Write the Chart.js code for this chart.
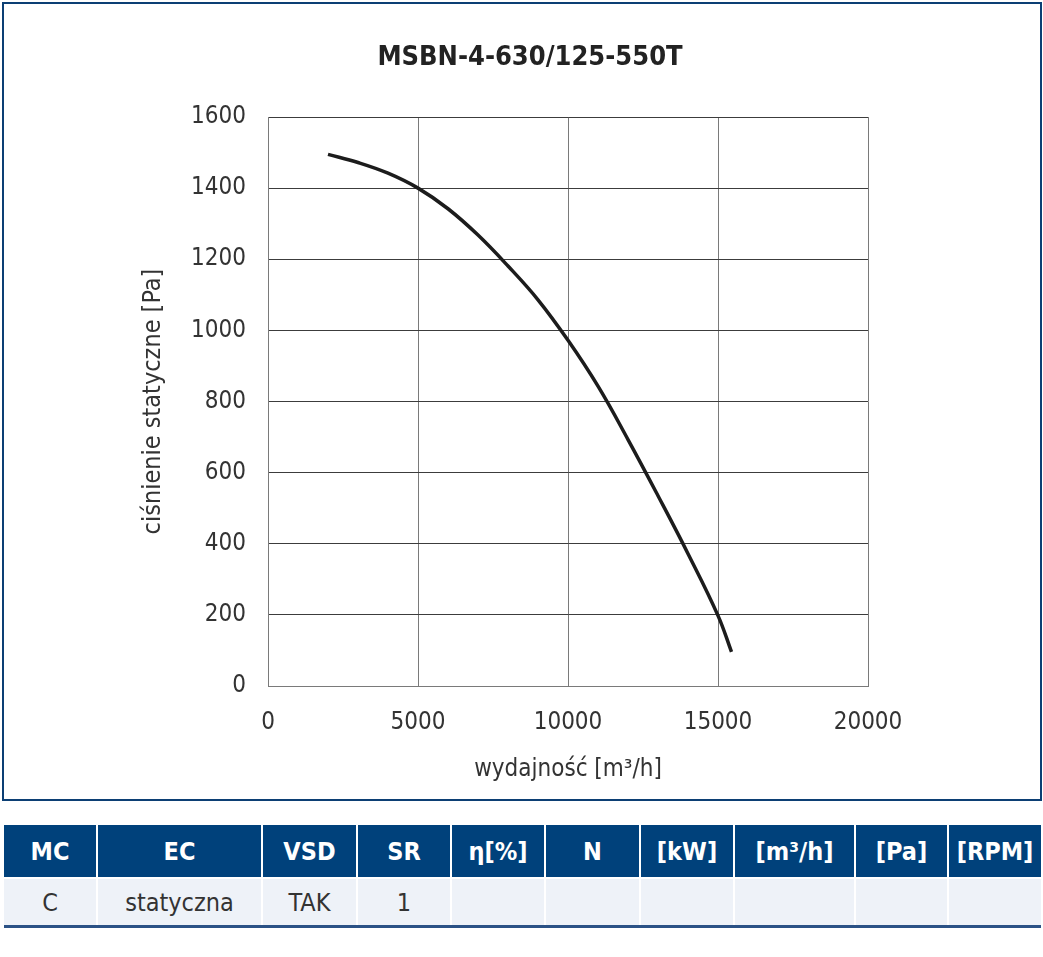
<!DOCTYPE html>
<html>
<head>
<meta charset="utf-8">
<script src="https://cdn.jsdelivr.net/npm/chart.js@4.4.1/dist/chart.umd.min.js"></script>
<style>
    body {
        margin: 0;
        background: #ffffff;
        font-family: "DejaVu Sans Condensed", "Liberation Sans Narrow", sans-serif;
    }

    #box {
        position: absolute;
        left: 2px;
        top: 2px;
        width: 1036px;
        height: 795px;
        border: 2px solid #0c3f74;
    }

    #box canvas {
        display: block;
    }

    #params {
        position: absolute;
        left: 4px;
        top: 825px;
        width: 1037px;
        border-collapse: collapse;
        table-layout: fixed;
        border-bottom: 3px solid #2b5286;
    }

    #params th {
        background: #00417b;
        color: #ffffff;
        font-size: 25px;
        font-weight: bold;
        height: 52px;
        padding: 0;
        border-left: 2px solid #ffffff;
    }

    #params td {
        background: #eef2f8;
        color: #333333;
        font-size: 25px;
        height: 46px;
        padding: 0;
        text-align: center;
        border-left: 2px solid #ffffff;
        border-top: 2px solid #ffffff;
    }

    #params th:first-child,
    #params td:first-child {
        border-left: none;
    }
</style>
</head>
<body>

<div id="box">
    <canvas id="fanChart" width="1036" height="795"></canvas>
</div>

<table id="params">
    <colgroup>
        <col style="width:93px">
        <col style="width:165px">
        <col style="width:95px">
        <col style="width:94px">
        <col style="width:94px">
        <col style="width:95px">
        <col style="width:94px">
        <col style="width:121px">
        <col style="width:93px">
        <col style="width:93px">
    </colgroup>
    <tr id="headRow"></tr>
    <tr id="valueRow"></tr>
</table>

<script>
// ================= DATA =================

const chartTitle = "MSBN-4-630/125-550T";

// air flow [m3/h]
const airFlow = [
    2000, 3000, 4000, 5000, 6000, 7000, 8000, 9000,
    10000, 11000, 12000, 13000, 14000, 15000, 15450
];

// static pressure [Pa]
const staticPressure = [
    1495, 1472, 1442, 1400, 1342, 1268, 1181, 1086,
    972, 843, 693, 535, 372, 198, 96
];

const tableHeaders = [
    "MC", "EC", "VSD", "SR", "η[%]", "N",
    "[kW]", "[m³/h]", "[Pa]", "[RPM]"
];

const tableValues = [
    "C", "statyczna", "TAK", "1", "", "",
    "", "", "", ""
];


// ================= PARAMETER TABLE =================

tableHeaders.forEach(text => {
    const th = document.createElement("th");
    th.textContent = text;
    document.getElementById("headRow").appendChild(th);
});

tableValues.forEach(text => {
    const td = document.createElement("td");
    td.textContent = text;
    document.getElementById("valueRow").appendChild(td);
});


// ================= FAN CURVE CHART =================

const fontFamily =
    "'DejaVu Sans Condensed', 'Liberation Sans Narrow', sans-serif";

Chart.defaults.font.family = fontFamily;
Chart.defaults.color = "#333333";

// Title centred over the whole box, not only the plot
const boxTitle = {

    id: "boxTitle",

    afterDraw(chart) {

        const { ctx } = chart;

        ctx.save();

        ctx.textAlign = "center";
        ctx.textBaseline = "middle";

        ctx.fillStyle = "#222222";
        ctx.font = "bold 27px " + fontFamily;

        ctx.fillText(
            chartTitle,
            chart.width / 2 + 8,
            54
        );

        ctx.restore();
    }
};

const curvePoints =
    airFlow.map((flow, i) => ({
        x: flow,
        y: staticPressure[i]
    }));

// plain numbers, no thousands separator
const plainTick = value => String(value);

new Chart(
    document.getElementById("fanChart"),
    {
        type: "line",

        data: {
            datasets: [
                {
                    data: curvePoints,

                    borderColor: "#1c1c1c",

                    borderWidth: 3.5,

                    tension: 0.4,

                    pointRadius: 0,

                    fill: false
                }
            ]
        },

        options: {
            responsive: false,

            animation: false,

            layout: {
                padding: {
                    left: 134,
                    right: 172,
                    top: 113,
                    bottom: 15
                }
            },

            plugins: {
                legend: {
                    display: false
                },

                tooltip: {
                    enabled: false
                }
            },

            scales: {
                x: {
                    type: "linear",
                    min: 0,
                    max: 20000,

                    ticks: {
                        stepSize: 5000,
                        padding: 22,
                        callback: plainTick,
                        font: {
                            size: 24
                        }
                    },

                    grid: {
                        color: "#7a7a7a",
                        drawTicks: false
                    },

                    border: {
                        color: "#7a7a7a"
                    },

                    title: {
                        display: true,
                        text: "wydajność [m³/h]",
                        padding: 0,
                        font: {
                            size: 24
                        }
                    },

                    afterFit(scale) {
                        scale.height = 98;
                    }
                },

                y: {
                    min: 0,
                    max: 1600,

                    ticks: {
                        stepSize: 200,
                        padding: 22,
                        callback: plainTick,
                        font: {
                            size: 24
                        }
                    },

                    grid: {
                        color: "#3c3c3c",
                        drawTicks: false
                    },

                    border: {
                        color: "#7a7a7a"
                    },

                    title: {
                        display: true,
                        text: "ciśnienie statyczne [Pa]",
                        padding: 0,
                        font: {
                            size: 25
                        }
                    },

                    afterFit(scale) {
                        scale.width = 130;
                    }
                }
            }
        },

        plugins: [
            boxTitle
        ]
    }
);
</script>
</body>
</html>
